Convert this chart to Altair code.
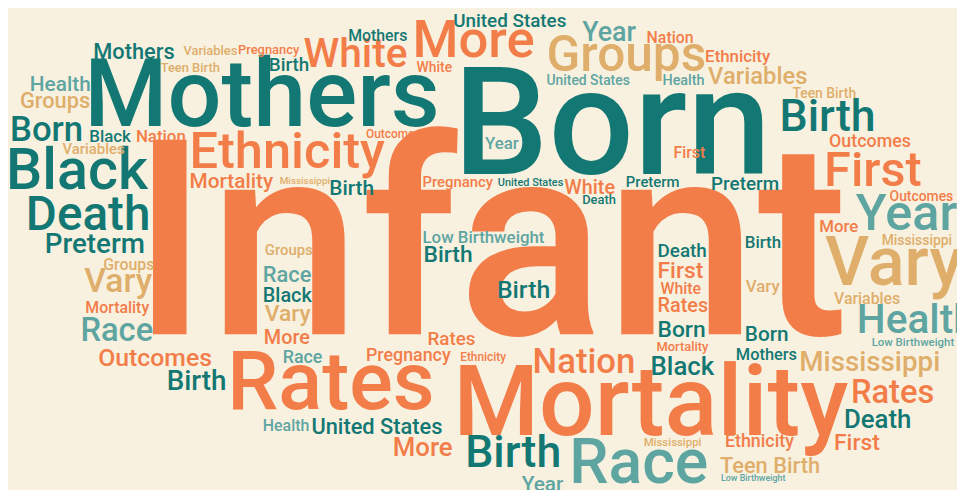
import altair as alt
import pandas as pd

# Word cloud data: word, left x (px), baseline y (px), font size, colour group
words = ["Infant", "Born", "Mothers", "Mortality", "Rates", "Vary", "Race", "Groups", "More", "White",
         "Ethnicity", "Black", "Death", "Birth", "First", "Year", "Health", "Nation", "Birth", "Mississippi",
         "Rates", "Death", "First", "Teen Birth", "Outcomes", "Birth", "Race", "Vary", "Preterm", "Mothers",
         "Health", "Groups", "Born", "Black", "Nation", "Variables", "Variables", "Pregnancy", "Teen Birth", "Birth",
         "Mortality", "Mississippi", "United States", "Mothers", "Year", "White", "Nation", "Ethnicity", "Health", "Variables",
         "Teen Birth", "United States", "Outcomes", "Year", "Outcomes", "First", "Pregnancy", "United States", "White", "Death",
         "Preterm", "Preterm", "Birth", "Outcomes", "Low Birthweight", "More", "Mississippi", "Birth", "Death", "Birth",
         "Birth", "Groups", "Groups", "Race", "Black", "Vary", "More", "Race", "Health", "Mortality",
         "First", "White", "Rates", "Born", "Mortality", "Black", "Vary", "Born", "Mothers", "Variables",
         "Low Birthweight", "Ethnicity", "Mississippi", "Low Birthweight", "Rates", "Pregnancy", "Ethnicity", "United States", "More", "Year"]
x_pos = [132, 457, 85, 457, 229, 832, 574, 551, 416, 306,
         191, 6, 26, 786, 831, 863, 864, 537, 469, 806,
         858, 851, 841, 726, 99, 168, 81, 85, 45, 94,
         30, 20, 10, 90, 137, 63, 185, 240, 162, 271,
         191, 282, 457, 351, 587, 420, 652, 711, 668, 714,
         799, 551, 369, 489, 836, 679, 426, 502, 569, 587,
         631, 717, 332, 897, 426, 826, 889, 751, 663, 427,
         501, 267, 104, 265, 265, 267, 266, 285, 265, 86,
         663, 666, 663, 663, 662, 656, 752, 751, 742, 841,
         879, 731, 649, 727, 431, 369, 464, 314, 396, 526]
y_base = [335, 173, 125, 437, 410, 285, 485, 70, 55, 65,
          167, 188, 230, 130, 185, 230, 334, 374, 469, 372,
          404, 430, 452, 475, 367, 391, 342, 292, 253, 57,
          90, 107, 140, 141, 141, 153, 53, 52, 71, 70,
          187, 183, 25, 39, 39, 71, 41, 60, 84, 83,
          97, 84, 137, 148, 146, 157, 186, 185, 194, 204,
          186, 190, 195, 201, 243, 232, 245, 248, 257, 262,
          298, 255, 270, 282, 302, 322, 345, 364, 433, 314,
          278, 294, 313, 338, 352, 376, 292, 342, 361, 304,
          347, 449, 448, 483, 346, 362, 362, 436, 458, 493]
font_size = [276, 152, 96, 99, 82, 69, 63, 50, 53, 41,
             51, 58, 48, 45, 49, 51, 41, 35, 45, 28,
             33, 26, 23, 22, 25, 28, 33, 34, 28, 22,
             21, 22, 35, 17, 17, 15, 13, 13, 13, 19,
             21, 10, 19, 16, 27, 14, 16, 17, 14.5, 24,
             14, 14, 12, 17, 18, 16, 15, 11, 20, 13,
             15, 19, 21, 14, 17, 17, 14, 17, 19, 23,
             25, 15, 16, 22, 20, 23, 20, 18, 16, 16,
             23, 16, 20, 23, 13, 26, 17, 21, 16.5, 16,
             11.5, 18, 11.5, 9, 19, 18, 12, 22, 26, 21]
group = ["O", "D", "D", "O", "O", "T", "L", "T", "O", "O",
         "O", "D", "D", "D", "O", "L", "L", "O", "D", "T",
         "O", "D", "O", "T", "O", "D", "L", "T", "D", "D",
         "L", "T", "D", "D", "O", "T", "T", "O", "T", "D",
         "O", "T", "D", "D", "L", "O", "O", "O", "L", "T",
         "T", "L", "O", "L", "O", "O", "O", "D", "O", "D",
         "D", "D", "D", "O", "L", "O", "T", "D", "D", "D",
         "D", "T", "T", "L", "D", "T", "O", "L", "L", "O",
         "O", "O", "O", "D", "O", "D", "T", "D", "D", "T",
         "L", "O", "T", "L", "O", "O", "O", "D", "O", "L"]

group_names = ["D", "O", "T", "L"]
group_colors = ["#137873", "#f37d49", "#dfae6b", "#5ea5a2"]

df = pd.DataFrame({"word": words, "x": x_pos, "y": y_base, "size": font_size, "group": group})

chart = alt.Chart(df).mark_text(
    align="left", baseline="alphabetic", font="Roboto", fontWeight=500
).encode(
    x=alt.X("x:Q", scale=alt.Scale(domain=[8, 965], nice=False, zero=False), axis=None),
    y=alt.Y("y:Q", scale=alt.Scale(domain=[8, 490], nice=False, zero=False, reverse=True), axis=None),
    size=alt.Size("size:Q", scale=None, legend=None),
    color=alt.Color("group:N", scale=alt.Scale(domain=group_names, range=group_colors), legend=None),
    text="word:N",
).properties(
    width=957, height=482, padding=0, background="#f8f1e0",
    autosize=alt.AutoSizeParams(type="none")
).configure_view(stroke=None)

chart.save("out.html", embed_options={"renderer": "svg", "actions": False})
